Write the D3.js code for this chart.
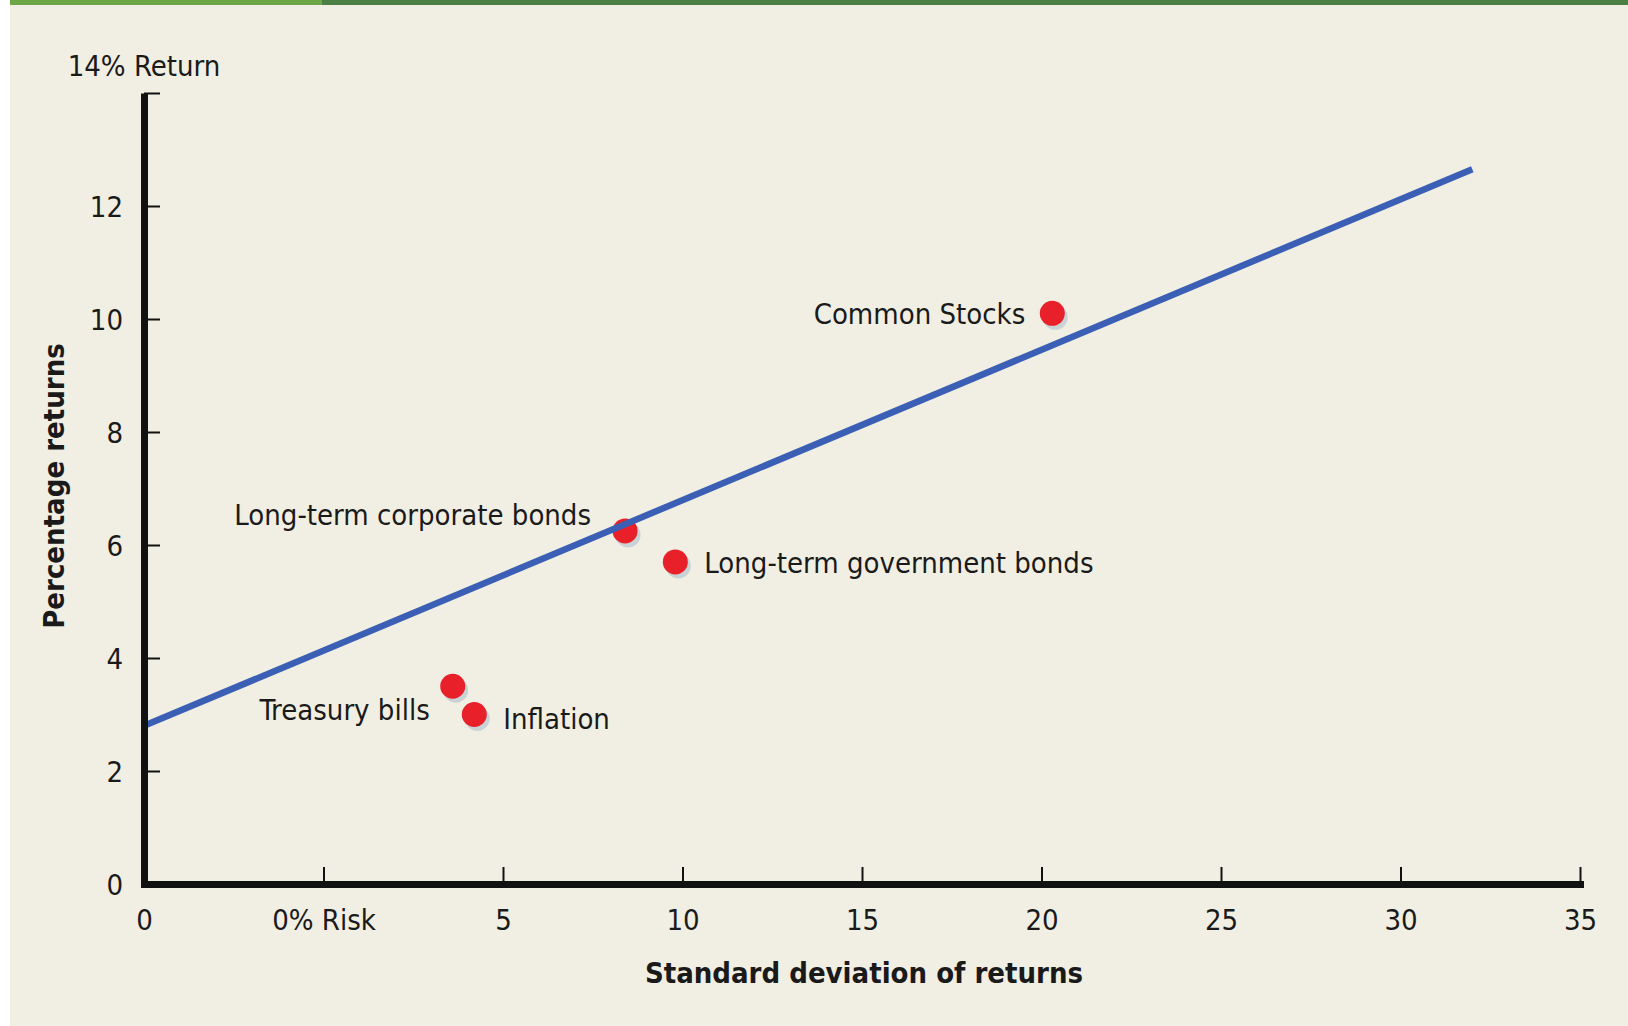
<!DOCTYPE html>
<html>
<head>
<meta charset="utf-8">
<script src="https://cdn.jsdelivr.net/npm/d3@7"></script>
<style>
  html, body { margin: 0; padding: 0; background: #ffffff; }
  svg { display: block; }
</style>
</head>
<body>
<svg id="chart" width="1628" height="1026"></svg>
<script>
// ---------------- data ----------------
const assetNames = ["Common Stocks", "Long-term corporate bonds", "Long-term government bonds", "Treasury bills", "Inflation"];
const riskValues = [20.3, 8.4, 9.8, 3.6, 4.2];      // standard deviation of returns
const returnValues = [10.1, 6.25, 5.7, 3.5, 3.0];   // percentage returns

const lineRisk = [-5, 32];        // market line end points (x)
const lineReturn = [2.8, 12.65];  // market line end points (y)

const xTickValues = [-5, 0, 5, 10, 15, 20, 25, 30, 35];
const xTickLabels = ["0", "0% Risk", "5", "10", "15", "20", "25", "30", "35"];
const yTickValues = [0, 2, 4, 6, 8, 10, 12, 14];
const yTickLabels = ["0", "2", "4", "6", "8", "10", "12", ""];

const xTitle = "Standard deviation of returns";
const yTitle = "Percentage returns";
const yTopLabel = "14% Return";

// ---------------- layout / style ----------------
const FONT = "'Liberation Sans Narrow', 'DejaVu Sans Condensed', 'Open Sans', sans-serif";
const FS = 29;
const labelPlacement = [
  {anchor: "end", dx: -27, dy: 0},
  {anchor: "end", dx: -34, dy: -16},
  {anchor: "start", dx: 29, dy: 1},
  {anchor: "end", dx: -23, dy: 24},
  {anchor: "start", dx: 29, dy: 4}
];

const svg = d3.select("#chart");

// background panel
svg.append("rect").attr("x", 10).attr("y", 0).attr("width", 1618).attr("height", 1026).attr("fill", "#f1efe3");
svg.append("rect").attr("x", 10).attr("y", 0).attr("width", 312).attr("height", 5).attr("fill", "#6da645");
svg.append("rect").attr("x", 322).attr("y", 0).attr("width", 1306).attr("height", 5).attr("fill", "#4b7f43");

const x = d3.scaleLinear().domain([-5, 35]).range([144, 1580]);
const y = d3.scaleLinear().domain([0, 14]).range([884, 93]);

// points (shadow + dot)
const pts = assetNames.map((n, i) => ({name: n, sx: riskValues[i], ry: returnValues[i], p: labelPlacement[i]}));

const gPts = svg.append("g");
gPts.selectAll("circle.shadow").data(pts).join("circle")
  .attr("class", "shadow")
  .attr("cx", d => x(d.sx) + 3).attr("cy", d => y(d.ry) + 4).attr("r", 12.5)
  .attr("fill", "#c9d3d6");
gPts.selectAll("circle.dot").data(pts).join("circle")
  .attr("class", "dot")
  .attr("cx", d => x(d.sx)).attr("cy", d => y(d.ry)).attr("r", 12.5)
  .attr("fill", "#e8202a");

// line
const lineData = lineRisk.map((v, i) => [v, lineReturn[i]]);
svg.append("path")
  .datum(lineData)
  .attr("d", d3.line().x(d => x(d[0])).y(d => y(d[1])))
  .attr("fill", "none").attr("stroke", "#3a5fb5").attr("stroke-width", 6.5);

// point labels
svg.append("g").selectAll("text").data(pts).join("text")
  .attr("x", d => x(d.sx) + d.p.dx)
  .attr("y", d => y(d.ry) + d.p.dy)
  .attr("dy", "0.35em")
  .attr("text-anchor", d => d.p.anchor)
  .attr("font-family", FONT).attr("font-size", FS).attr("fill", "#1a1a1a")
  .text(d => d.name);

// axes
const xAxis = d3.axisBottom(x).tickValues(xTickValues).tickFormat((d, i) => xTickLabels[i]).tickSizeInner(-17).tickSizeOuter(0);
const yAxis = d3.axisLeft(y).tickValues(yTickValues).tickFormat((d, i) => yTickLabels[i]).tickSizeInner(-16).tickSizeOuter(0);

const gx = svg.append("g").attr("transform", `translate(0,${y(0)})`).call(xAxis);
const gy = svg.append("g").attr("transform", `translate(${x(-5)},0)`).call(yAxis);

[gx, gy].forEach(g => {
  g.select(".domain").attr("stroke", "#111").attr("stroke-width", 7);
  g.selectAll(".tick line").attr("stroke", "#111").attr("stroke-width", 2);
  g.selectAll(".tick text").attr("font-family", FONT).attr("font-size", FS).attr("fill", "#1a1a1a");
});
gx.select(".domain").attr("stroke-linecap", "square");
gx.selectAll(".tick text").attr("y", 36).attr("dy", "0.35em");
gy.selectAll(".tick text").attr("x", -21).attr("dy", "0.35em");

// titles
svg.append("text")
  .attr("x", x(-5)).attr("y", 66).attr("dy", "0.35em")
  .attr("text-anchor", "middle")
  .attr("font-family", FONT).attr("font-size", FS).attr("fill", "#1a1a1a")
  .text(yTopLabel);

svg.append("text")
  .attr("x", 864).attr("y", 973).attr("dy", "0.35em")
  .attr("text-anchor", "middle")
  .attr("font-family", FONT).attr("font-size", FS).attr("font-weight", "bold").attr("fill", "#1a1a1a")
  .text(xTitle);

svg.append("text")
  .attr("transform", "translate(54,486) rotate(-90)")
  .attr("dy", "0.35em")
  .attr("text-anchor", "middle")
  .attr("font-family", FONT).attr("font-size", FS).attr("font-weight", "bold").attr("fill", "#1a1a1a")
  .text(yTitle);
</script>
</body>
</html>
